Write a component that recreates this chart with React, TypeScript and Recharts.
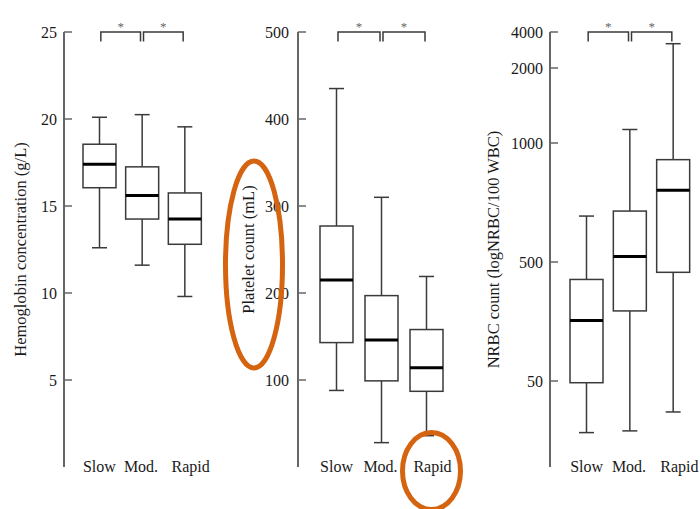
import { Bar, BarChart, ReferenceLine, XAxis, YAxis } from 'recharts';

const GROUPS = ['Slow', 'Mod.', 'Rapid'];

// Hemoglobin concentration (g/L)
const HB_MIN = [12.6, 11.6, 9.8];
const HB_Q1 = [16.05, 14.25, 12.8];
const HB_MED = [17.4, 15.6, 14.25];
const HB_Q3 = [18.55, 17.25, 15.75];
const HB_MAX = [20.1, 20.25, 19.55];
const HB_TICKS = [5, 10, 15, 20, 25];

// Platelet count
const PLT_MIN = [88, 28, 36];
const PLT_Q1 = [143, 99, 87];
const PLT_MED = [215, 146, 114];
const PLT_Q3 = [277, 197, 158];
const PLT_MAX = [435, 310, 219];
const PLT_TICKS = [100, 200, 300, 400, 500];

// NRBC count, drawn on the uneven axis of the original
const NRBC_MIN = [20, 21, 32];
const NRBC_Q1 = [49, 315, 461];
const NRBC_MED = [279, 523, 801];
const NRBC_Q3 = [434, 714, 930];
const NRBC_MAX = [693, 1180, 3350];
const NRBC_TICKS = [50, 500, 1000, 2000, 4000];
const NRBC_TICK_POS = [86, 205, 324, 399, 435];

const FONT = '"Liberation Serif", "DejaVu Serif", serif';
const INK = '#3a3a3a';
const AXIS = '#666';
const TEXT = '#1a1a1a';
const ORANGE = '#d4640f';
const LABEL_SHIFT = [0, -1, 6];

// piecewise linear map of a NRBC value onto the axis of the original
const nrbcPos = (v: number) => {
  const xs = [0, ...NRBC_TICKS];
  const ps = [0, ...NRBC_TICK_POS];
  for (let i = 1; i < xs.length; i++) {
    if (v <= xs[i]) return ps[i - 1] + ((v - xs[i - 1]) / (xs[i] - xs[i - 1])) * (ps[i] - ps[i - 1]);
  }
  return ps[ps.length - 1];
};

type Row = { group: string; range: [number, number]; min: number; q1: number; med: number; q3: number; max: number };

const buildRows = (mn: number[], q1: number[], md: number[], q3: number[], mx: number[], f = (v: number) => v): Row[] =>
  GROUPS.map((g, i) => ({
    group: g,
    range: [f(mn[i]), f(mx[i])],
    min: f(mn[i]),
    q1: f(q1[i]),
    med: f(md[i]),
    q3: f(q3[i]),
    max: f(mx[i]),
  }));

const hbRows = buildRows(HB_MIN, HB_Q1, HB_MED, HB_Q3, HB_MAX);
const pltRows = buildRows(PLT_MIN, PLT_Q1, PLT_MED, PLT_Q3, PLT_MAX);
const nrbcRows = buildRows(NRBC_MIN, NRBC_Q1, NRBC_MED, NRBC_Q3, NRBC_MAX, nrbcPos);

const BoxShape = (props: any) => {
  const { x, y, width, height, payload } = props;
  const top = Math.min(y, y + height);
  const bottom = Math.max(y, y + height);
  const yOf = (v: number) => top + ((payload.max - v) / (payload.max - payload.min)) * (bottom - top);
  const cx = x + width / 2;
  const cap = 7.5;
  return (
    <g stroke={INK} strokeWidth={1.5} fill="none">
      <line x1={cx} x2={cx} y1={yOf(payload.max)} y2={yOf(payload.q3)} />
      <line x1={cx} x2={cx} y1={yOf(payload.q1)} y2={yOf(payload.min)} />
      <line x1={cx - cap} x2={cx + cap} y1={yOf(payload.max)} y2={yOf(payload.max)} />
      <line x1={cx - cap} x2={cx + cap} y1={yOf(payload.min)} y2={yOf(payload.min)} />
      <rect x={x} y={yOf(payload.q3)} width={width} height={yOf(payload.q1) - yOf(payload.q3)} fill="#fff" />
      <line x1={x} x2={x + width} y1={yOf(payload.med)} y2={yOf(payload.med)} stroke="#000" strokeWidth={3} />
    </g>
  );
};

const Bracket = (props: any) => {
  const { x1, x2, y1 } = props;
  const a = Math.min(x1, x2) + 1.5;
  const b = Math.max(x1, x2) - 1.5;
  return (
    <g>
      <path d={`M${a},${y1 + 9.5} V${y1} H${b} V${y1 + 9.5}`} fill="none" stroke={INK} strokeWidth={1.5} />
      <text x={(a + b) / 2} y={y1 - 1.5} textAnchor="middle" fontSize={13} fill="#666" fontFamily={FONT}>
        *
      </text>
    </g>
  );
};

interface PanelProps {
  rows: Row[];
  ticks: number[];
  top: number;
  label: string;
  left: number;
  width: number;
  axisWidth: number;
  padding: { left: number; right: number };
  labelDx: number;
  tickGap: number;
  fmt?: (v: number) => string;
}

const Panel = ({ rows, ticks, top, label, left, width, axisWidth, padding, labelDx, tickGap, fmt }: PanelProps) => (
  <div style={{ position: 'absolute', left, top: 0 }}>
    <BarChart width={width} height={509} data={rows} margin={{ top: 32, right: 0, bottom: 0, left: 0 }} barSize={33}>
      <XAxis
        dataKey="group"
        axisLine={false}
        tickLine={false}
        tickSize={0}
        tickMargin={0}
        height={42}
        padding={padding}
        interval={0}
        tick={(p: any) => (
          <text
            x={p.x + LABEL_SHIFT[p.index ?? 0]}
            y={p.y + 4.5}
            textAnchor="middle"
            fontSize={16}
            fontFamily={FONT}
            fill={TEXT}
          >
            {p.payload.value}
          </text>
        )}
      />
      <YAxis
        type="number"
        domain={[0, top]}
        ticks={ticks}
        interval={0}
        width={axisWidth}
        axisLine={{ stroke: AXIS, strokeWidth: 2 }}
        tickLine={false}
        tickSize={0}
        tickMargin={0}
        tick={(p: any) => (
          <g>
            <line x1={p.x} x2={p.x + 8} y1={p.y} y2={p.y} stroke={AXIS} strokeWidth={1.5} />
            <text
              x={p.x - tickGap}
              y={p.y}
              dy="0.35em"
              textAnchor="end"
              fontSize={16}
              fontFamily={FONT}
              fill={TEXT}
            >
              {fmt ? fmt(p.payload.value) : p.payload.value}
            </text>
          </g>
        )}
        label={{
          value: label,
          angle: -90,
          position: 'center',
          dx: labelDx,
          style: { fontSize: 16.5, fontFamily: FONT, fill: TEXT },
        }}
      />
      <Bar dataKey="range" shape={BoxShape} isAnimationActive={false} />
      <ReferenceLine segment={[{ x: GROUPS[0], y: top }, { x: GROUPS[1], y: top }]} shape={Bracket} />
      <ReferenceLine segment={[{ x: GROUPS[1], y: top }, { x: GROUPS[2], y: top }]} shape={Bracket} />
    </BarChart>
  </div>
);

export default function App() {
  return (
    <div style={{ position: 'absolute', left: 0, top: 0, width: 700, height: 509, background: '#fff', overflow: 'hidden' }}>
      <Panel
        rows={hbRows}
        ticks={HB_TICKS}
        top={25}
        label="Hemoglobin concentration (g/L)"
        left={0}
        width={220}
        axisWidth={64}
        padding={{ left: 14, right: 14 }}
        labelDx={-12}
        tickGap={7}
      />
      <Panel
        rows={pltRows}
        ticks={PLT_TICKS}
        top={500}
        label="Platelet count (mL)"
        left={220}
        width={244}
        axisWidth={78}
        padding={{ left: 16, right: 15 }}
        labelDx={-11}
        tickGap={9}
      />
      <Panel
        rows={nrbcRows}
        ticks={NRBC_TICK_POS}
        top={NRBC_TICK_POS[NRBC_TICK_POS.length - 1]}
        label="NRBC count (logNRBC/100 WBC)"
        left={464}
        width={236}
        axisWidth={86}
        padding={{ left: 15, right: 5 }}
        labelDx={-14}
        tickGap={7}
        fmt={(v) => String(NRBC_TICKS[NRBC_TICK_POS.indexOf(v)])}
      />
      <svg width={700} height={509} style={{ position: 'absolute', left: 0, top: 0, pointerEvents: 'none' }}>
        <ellipse cx={254} cy={264.5} rx={28.5} ry={103.5} fill="none" stroke={ORANGE} strokeWidth={5} />
        <ellipse cx={431.5} cy={471} rx={29} ry={38.5} fill="none" stroke={ORANGE} strokeWidth={5} />
      </svg>
    </div>
  );
}
